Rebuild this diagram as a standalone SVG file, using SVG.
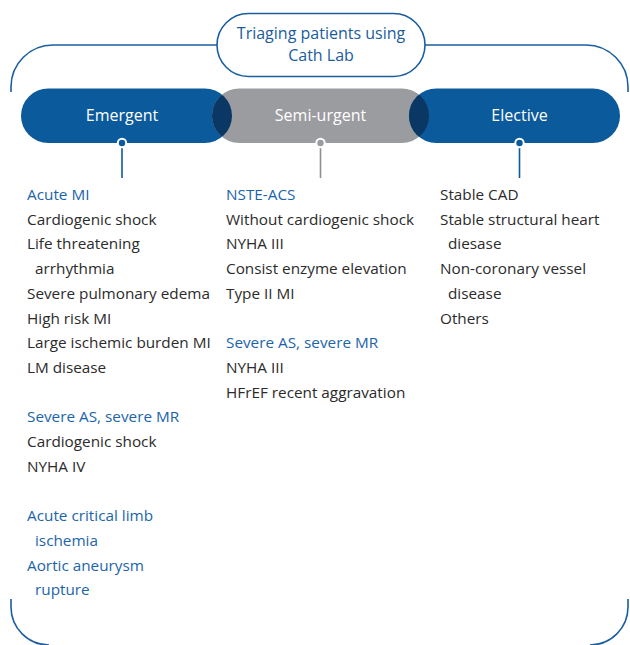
<svg xmlns="http://www.w3.org/2000/svg" width="630" height="645" viewBox="0 0 630 645">
<style>
.frame{fill:none;stroke:#1b5e9f;stroke-width:1.6}
.t{font-family:"Open Sans","Noto Sans","Liberation Sans",sans-serif;font-size:15.3px;fill:#2b2b2b}
.h{fill:#1c64a9}
.pl{font-family:"Open Sans","Noto Sans","Liberation Sans",sans-serif;font-size:16px;fill:#ffffff;text-anchor:middle}
.tt{font-family:"Open Sans","Noto Sans","Liberation Sans",sans-serif;font-size:16px;fill:#1c5c9c;text-anchor:middle}
.blue{fill:#0b5a9c}
.gray{fill:#9b9c9f}
.dark{fill:#0a3764}
</style>
<defs>
<clipPath id="cE"><rect x="21" y="88.5" width="211" height="54.5" rx="27.25"/></clipPath>
<clipPath id="cL"><rect x="409" y="88.5" width="211" height="54.5" rx="27.25"/></clipPath>
</defs>
<g id="frame">
<path class="frame" d="M11,92 L11,87 A42,42 0 0 1 53,45 L217,45"/>
<path class="frame" d="M425,45 L586,45 A42,42 0 0 1 628,87 L628,92"/>
<path class="frame" d="M11,599 L11,607 A38,38 0 0 0 49,645"/>
<path class="frame" d="M628,599 L628,607 A38,38 0 0 1 590,645"/>
</g>
<g id="title">
<rect x="217" y="13.5" width="208" height="63" rx="31.5" fill="#ffffff" stroke="#1b5e9f" stroke-width="1.6"/>
<text class="tt" x="321" y="39">Triaging patients using</text>
<text class="tt" x="321" y="61">Cath Lab</text>
</g>
<g id="emergent">
<rect class="blue" x="21" y="88.5" width="211" height="54.5" rx="27.25"/>
</g>
<g id="semi-urgent">
<rect class="gray" x="212" y="88.5" width="217" height="54.5" rx="27.25"/>
<rect class="dark" x="212" y="88.5" width="217" height="54.5" rx="27.25" clip-path="url(#cE)"/>
</g>
<g id="elective">
<rect class="blue" x="409" y="88.5" width="211" height="54.5" rx="27.25"/>
<rect class="dark" x="212" y="88.5" width="217" height="54.5" rx="27.25" clip-path="url(#cL)"/>
</g>
<g id="labels">
<text class="pl" x="122" y="121">Emergent</text>
<text class="pl" x="320.5" y="121" fill="#f2f2f2">Semi-urgent</text>
<text class="pl" x="519.5" y="121">Elective</text>
</g>
<g id="connectors">
<line x1="122" y1="148" x2="122" y2="178" stroke="#0b5a9c" stroke-width="1.6"/>
<line x1="320.5" y1="148" x2="320.5" y2="178" stroke="#8e8f92" stroke-width="1.6"/>
<line x1="519.5" y1="148" x2="519.5" y2="178" stroke="#0b5a9c" stroke-width="1.6"/>
<circle cx="122" cy="143" r="4.2" fill="#0b5a9c" stroke="#ffffff" stroke-width="2"/>
<circle cx="320.5" cy="143" r="4.2" fill="#9b9c9f" stroke="#ffffff" stroke-width="2"/>
<circle cx="519.5" cy="143" r="4.2" fill="#0b5a9c" stroke="#ffffff" stroke-width="2"/>
</g>
<g id="col-emergent">
<text class="t h" x="27" y="200">Acute MI</text>
<text class="t" x="27" y="224.7">Cardiogenic shock</text>
<text class="t" x="27" y="249.4">Life threatening</text>
<text class="t" x="35" y="274.1">arrhythmia</text>
<text class="t" x="27" y="298.8">Severe pulmonary edema</text>
<text class="t" x="27" y="323.5">High risk MI</text>
<text class="t" x="27" y="348.2">Large ischemic burden MI</text>
<text class="t" x="27" y="372.9">LM disease</text>
<text class="t h" x="27" y="422.3">Severe AS, severe MR</text>
<text class="t" x="27" y="447">Cardiogenic shock</text>
<text class="t" x="27" y="471.7">NYHA IV</text>
<text class="t h" x="27" y="521.1">Acute critical limb</text>
<text class="t h" x="35" y="545.8">ischemia</text>
<text class="t h" x="27" y="570.5">Aortic aneurysm</text>
<text class="t h" x="35" y="595.2">rupture</text>
</g>
<g id="col-semi-urgent">
<text class="t h" x="226" y="200">NSTE-ACS</text>
<text class="t" x="226" y="224.7">Without cardiogenic shock</text>
<text class="t" x="226" y="249.4">NYHA III</text>
<text class="t" x="226" y="274.1">Consist enzyme elevation</text>
<text class="t" x="226" y="298.8">Type II MI</text>
<text class="t h" x="226" y="348.2">Severe AS, severe MR</text>
<text class="t" x="226" y="372.9">NYHA III</text>
<text class="t" x="226" y="397.6">HFrEF recent aggravation</text>
</g>
<g id="col-elective">
<text class="t" x="440" y="200">Stable CAD</text>
<text class="t" x="440" y="224.7">Stable structural heart</text>
<text class="t" x="448" y="249.4">diesase</text>
<text class="t" x="440" y="274.1">Non-coronary vessel</text>
<text class="t" x="448" y="298.8">disease</text>
<text class="t" x="440" y="323.5">Others</text>
</g>
</svg>
